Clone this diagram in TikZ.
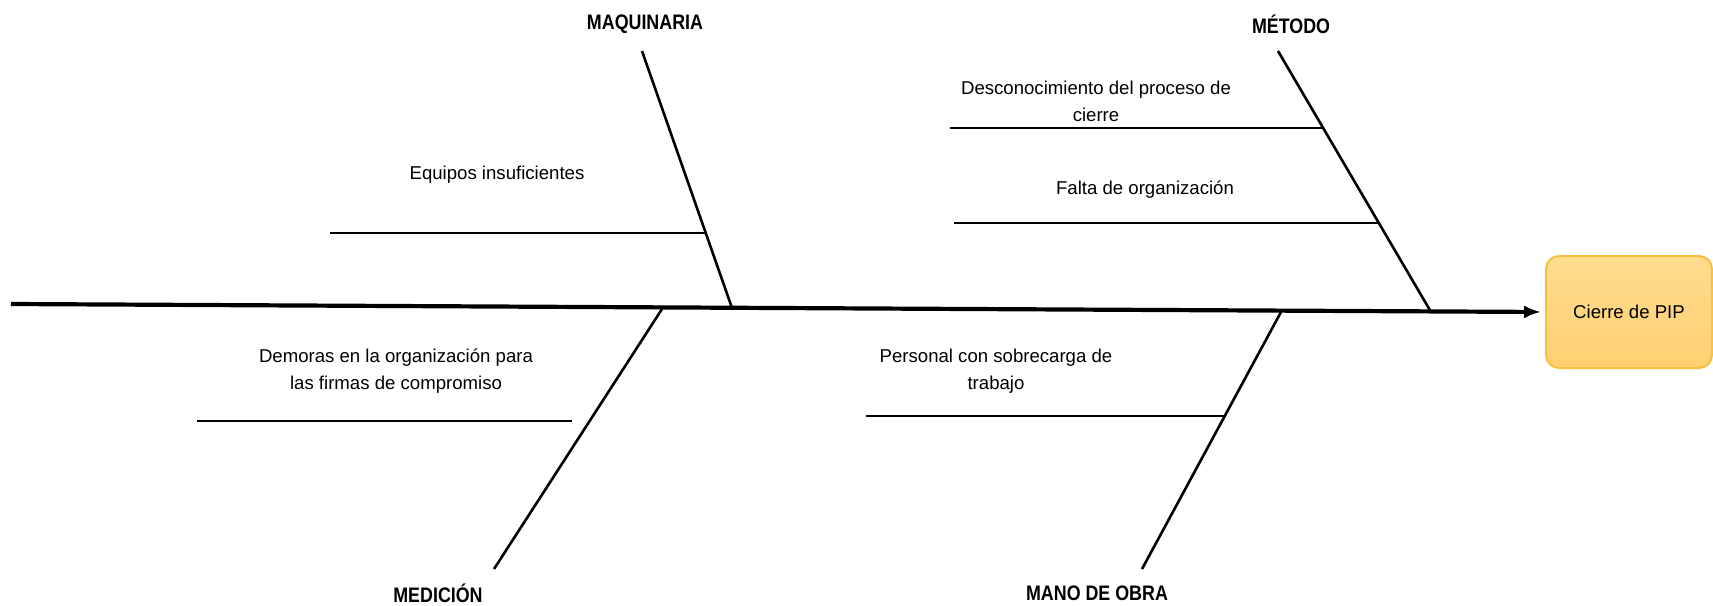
\documentclass[tikz,border=0pt]{standalone}
\usepackage{fontspec}
\setmainfont{Liberation Sans}
\newfontfamily\labelfont[FakeStretch=0.85]{Liberation Sans}
\usetikzlibrary{arrows.meta}
\newlength{\du}
\setlength{\du}{0.5pt}
\definecolor{dialinecolor}{rgb}{0.000000, 0.000000, 0.000000}
\definecolor{pipfilltop}{rgb}{1.000000, 0.862745, 0.560784}
\definecolor{pipfillbot}{rgb}{1.000000, 0.815686, 0.443137}
\definecolor{pipline}{rgb}{0.964706, 0.752941, 0.250980}
\tikzset{
  causa/.style={font=\fontsize{9.3}{13.5}\selectfont, align=center, inner sep=0pt, text=dialinecolor},
  categoria/.style={font=\labelfont\bfseries\fontsize{10.5}{12}\selectfont, inner sep=0pt, text=dialinecolor},
  espina/.style={draw=dialinecolor, line width=2.6\du},
  lomo/.style={draw=dialinecolor, line width=4.2\du, -{Latex[length=8.5pt,width=6.5pt]}, shorten >=2pt},
  efecto/.style={draw=pipline, line width=2\du, rounded corners=13\du, top color=pipfilltop, bottom color=pipfillbot,
    minimum width=166\du, minimum height=112\du, font=\fontsize{9.3}{13.5}\selectfont, inner sep=0pt}
}
\begin{document}
\begin{tikzpicture}
\pgftransformyscale{-1.000000}
\useasboundingbox (0\du,0\du) rectangle (1713\du,605\du);
% efecto
\node[efecto] (pip) at (1629\du,312\du) {Cierre de PIP};
% lomo central
\coordinate (cola) at (11\du,304\du);
\draw[lomo] (cola) -- (pip.west);
% MAQUINARIA
\node[categoria] (maquinaria) at (645\du,24\du) {MAQUINARIA};
\coordinate (maqA) at (642\du,51\du);
\coordinate (maqB) at (732\du,308\du);
\draw[espina] (maqA) -- (maqB);
\coordinate (equiposL) at (330\du,233\du);
\coordinate (equiposR) at (706\du,233\du);
\draw[espina] (equiposL) -- (equiposR);
\node[causa] (equipos) at (497\du,175\du) {Equipos insuficientes};
% METODO
\node[categoria] (metodo) at (1291\du,24\du) {MÉTODO};
\coordinate (metA) at (1278\du,51\du);
\coordinate (metB) at (1431\du,312\du);
\draw[espina] (metA) -- (metB);
\coordinate (desconL) at (950\du,128\du);
\coordinate (desconR) at (1323\du,128\du);
\draw[espina] (desconL) -- (desconR);
\node[causa] (descon) at (1096\du,101\du) {Desconocimiento del proceso de\\cierre};
\coordinate (faltaL) at (954\du,223\du);
\coordinate (faltaR) at (1380\du,223\du);
\draw[espina] (faltaL) -- (faltaR);
\node[causa] (falta) at (1145\du,190\du) {Falta de organización};
% MEDICION
\node[categoria] (medicion) at (438\du,593\du) {MEDICIÓN};
\coordinate (medA) at (662\du,309\du);
\coordinate (medB) at (494\du,569\du);
\draw[espina] (medA) -- (medB);
\coordinate (demorasL) at (197\du,421\du);
\coordinate (demorasR) at (572\du,421\du);
\draw[espina] (demorasL) -- (demorasR);
\node[causa] (demoras) at (396\du,371\du) {Demoras en la organización para\\las firmas de compromiso};
% MANO DE OBRA
\node[categoria] (manoobra) at (1097\du,593\du) {MANO DE OBRA};
\coordinate (manA) at (1281\du,312\du);
\coordinate (manB) at (1142\du,569\du);
\draw[espina] (manA) -- (manB);
\coordinate (personalL) at (866\du,416\du);
\coordinate (personalR) at (1226\du,416\du);
\draw[espina] (personalL) -- (personalR);
\node[causa] (personal) at (996\du,371\du) {Personal con sobrecarga de\\trabajo};
\end{tikzpicture}
\end{document}
